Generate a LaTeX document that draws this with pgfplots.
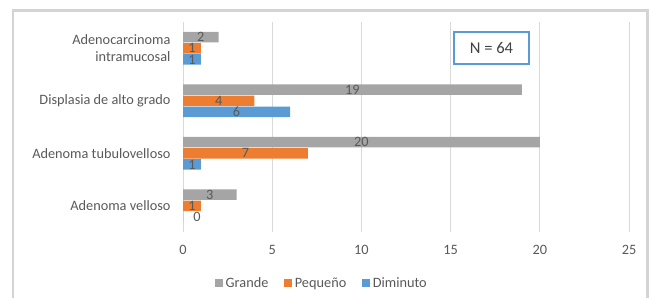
\documentclass[border=0pt]{standalone}
\usepackage{pgfplots}
\pgfplotsset{compat=1.18}
\usepackage{fontspec}
\setmainfont{Carlito}
\definecolor{grande}{HTML}{A5A5A5}
\definecolor{pequeno}{HTML}{ED7D31}
\definecolor{diminuto}{HTML}{5B9BD5}
\definecolor{labelgray}{HTML}{595959}
\definecolor{gridgray}{HTML}{D9D9D9}
\definecolor{framegray}{HTML}{D4D4D4}
\definecolor{ntext}{HTML}{404040}
\newcommand\f{\fontsize{14.3bp}{17.5bp}\selectfont}
\begin{document}
\begin{tikzpicture}
\begin{axis}[
  at={(183bp,-232bp)}, anchor=south west,
  scale only axis, width=446bp, height=210bp,
  xbar, bar width=10.5bp,
  xmin=0, xmax=25, ymin=-0.5, ymax=3.5,
  xtick={0,5,10,15,20,25}, ytick={0,1,2,3},
  yticklabels={Adenoma velloso, Adenoma tubulovelloso, Displasia de alto grado, {Adenocarcinoma\\intramucosal}},
  /pgf/number format/assume math mode=true,
  xmajorgrids, grid style={draw=gridgray, line width=0.9bp},
  axis line style={draw=none},
  tick style={draw=none}, major tick length=0pt,
  yticklabel style={align=right, font=\f, text=labelgray, xshift=-9bp},
  xticklabel style={font=\f, text=labelgray, yshift=-10bp},
  nodes near coords, nodes near coords align={center},
  visualization depends on={x \as \rawx},
  every node near coord/.append style={font=\f, text=labelgray, inner sep=0pt,
    xshift={ifthenelse(\rawx==0,14,-8.92*\rawx)*1bp}},
  legend columns=-1,
  legend style={at={(0.3105,-0.2429)}, anchor=center, draw=none, fill=none,
    inner sep=0pt, nodes={inner sep=1bp, font=\f, text=labelgray},
    /tikz/every even column/.append style={column sep=15bp}},
  legend image code/.code={\fill[#1] (0bp,-3.75bp) rectangle (7.5bp,3.75bp); \path (0bp,0bp) -- (9.5bp,0bp);},
]
\addplot[fill=grande, draw=none, bar shift=11.2bp] coordinates {(3,0) (20,1) (19,2) (2,3)};
\addlegendentry{Grande}
\addplot[fill=pequeno, draw=none, bar shift=0bp] coordinates {(1,0) (7,1) (4,2) (1,3)};
\addlegendentry{Pequeño}
\addplot[fill=diminuto, draw=none, bar shift=-11.2bp] coordinates {(0,0) (1,1) (6,2) (1,3)};
\addlegendentry{Diminuto}
\end{axis}
\draw[framegray, line width=2.2bp] (13bp,-300bp) -- (13bp,-10.5bp) -- (647.5bp,-10.5bp) -- (647.5bp,-300bp);
\node[draw=diminuto, line width=1.2bp, minimum width=75bp, minimum height=32bp, inner sep=0pt, font=\fontsize{16.5bp}{19bp}\selectfont, text=ntext] at (491.5bp,-48bp) {N = 64};
\pgfresetboundingbox
\path (0bp,0bp) rectangle (649bp,-298bp);
\end{tikzpicture}
\end{document}
